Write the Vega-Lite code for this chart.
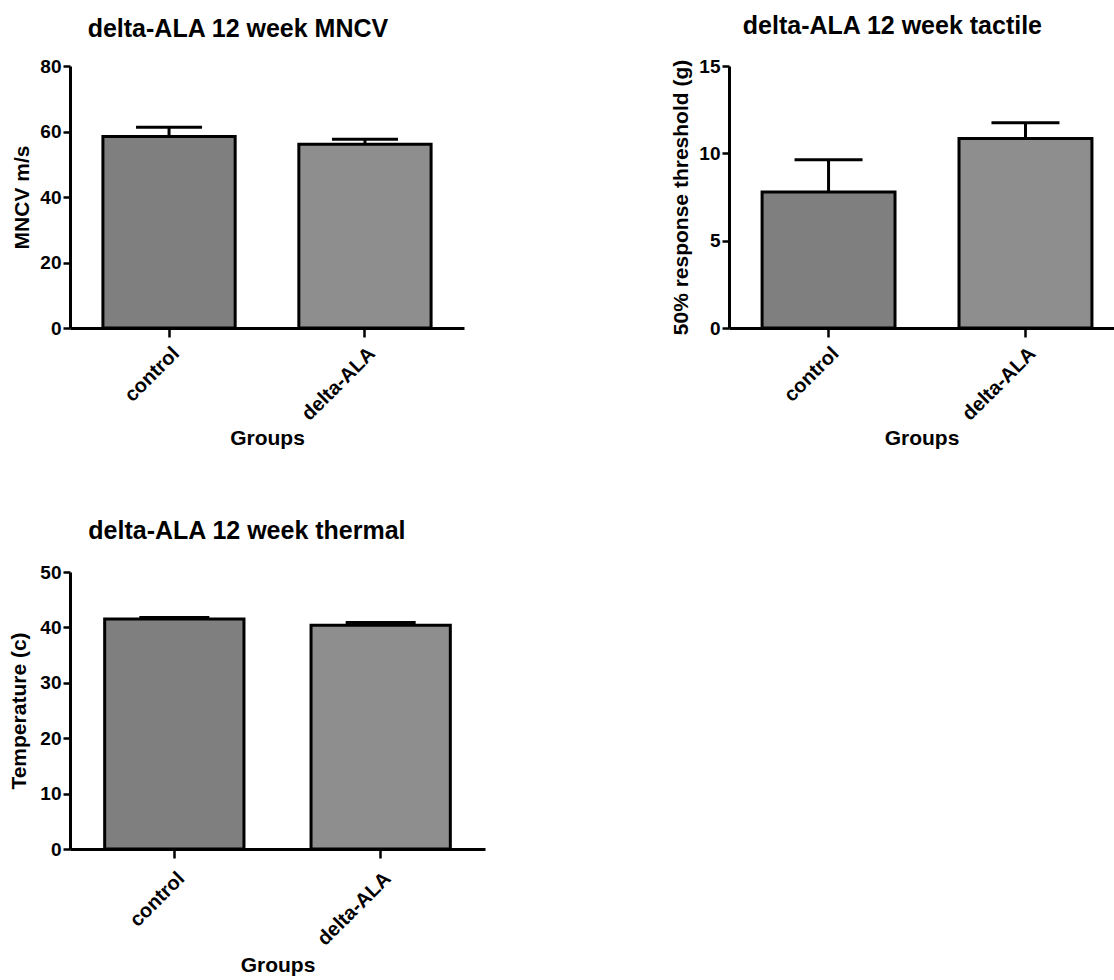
{
  "$schema": "https://vega.github.io/schema/vega-lite/v6.json",
  "padding": {"left": 8, "top": 14, "right": 0, "bottom": 0},
  "config": {
    "font": "Liberation Sans",
    "view": {"stroke": null},
    "axis": {
      "labelFont": "Liberation Sans", "titleFont": "Liberation Sans",
      "labelFontWeight": "bold", "titleFontWeight": "bold",
      "labelColor": "black", "titleColor": "black",
      "domainColor": "black", "tickColor": "black",
      "domainWidth": 3, "tickWidth": 2.5, "grid": false,
      "labelFontSize": 19, "titleFontSize": 21
    },
    "axisY": {"tickSize": 7, "labelPadding": 2, "titlePadding": 7},
    "axisX": {"tickSize": 9, "labelAngle": -45, "labelFontSize": 20, "labelPadding": 6, "titlePadding": 4},
    "title": {"font": "Liberation Sans", "fontSize": 25, "fontWeight": "bold", "color": "black", "anchor": "middle", "frame": "bounds", "offset": 15}
  },
  "data": {"values": [
    {"panel": "MNCV", "group": "control", "mean": 58.5, "upper": 61.3},
    {"panel": "MNCV", "group": "delta-ALA", "mean": 56.1, "upper": 57.6},
    {"panel": "tactile", "group": "control", "mean": 7.78, "upper": 9.63},
    {"panel": "tactile", "group": "delta-ALA", "mean": 10.85, "upper": 11.75},
    {"panel": "thermal", "group": "control", "mean": 41.5, "upper": 41.8},
    {"panel": "thermal", "group": "delta-ALA", "mean": 40.4, "upper": 40.9}
  ]},
  "columns": 1,
  "align": "none",
  "spacing": 70,
  "concat": [
    {
      "bounds": "flush",
      "spacing": 265,
      "hconcat": [
        {
          "width": 394, "height": 262,
          "title": "delta-ALA 12 week MNCV",
          "transform": [{"filter": "datum.panel == 'MNCV'"}],
          "encoding": {"x": {"field": "group", "type": "nominal", "sort": ["control", "delta-ALA"], "title": "Groups",
            "scale": {"paddingInner": 0.325, "paddingOuter": 0.168}}},
          "layer": [
            {"mark": {"type": "bar", "stroke": "black", "strokeWidth": 3},
             "encoding": {
               "y": {"field": "mean", "type": "quantitative", "title": "MNCV m/s", "scale": {"domain": [0, 80], "nice": false}, "axis": {"values": [0, 20, 40, 60, 80]}},
               "fill": {"field": "group", "type": "nominal", "scale": {"domain": ["control", "delta-ALA"], "range": ["#7f7f7f", "#8e8e8e"]}, "legend": null}}},
            {"mark": {"type": "rule", "strokeWidth": 3, "color": "black"},
             "encoding": {"y": {"field": "mean", "type": "quantitative", "title": "MNCV m/s"}, "y2": {"field": "upper"}}},
            {"mark": {"type": "tick", "thickness": 3, "size": 66, "color": "black", "opacity": 1},
             "encoding": {"y": {"field": "upper", "type": "quantitative", "title": "MNCV m/s"}}}
          ]
        },
        {
          "width": 385, "height": 262,
          "title": {"text": "delta-ALA 12 week tactile", "offset": 18},
          "transform": [{"filter": "datum.panel == 'tactile'"}],
          "encoding": {"x": {"field": "group", "type": "nominal", "sort": ["control", "delta-ALA"], "title": "Groups",
            "scale": {"paddingInner": 0.325, "paddingOuter": 0.14, "align": 0.6}}},
          "layer": [
            {"mark": {"type": "bar", "stroke": "black", "strokeWidth": 3},
             "encoding": {
               "y": {"field": "mean", "type": "quantitative", "title": "50% response threshold (g)", "scale": {"domain": [0, 15], "nice": false}, "axis": {"values": [0, 5, 10, 15]}},
               "fill": {"field": "group", "type": "nominal", "scale": {"domain": ["control", "delta-ALA"], "range": ["#7f7f7f", "#8e8e8e"]}, "legend": null}}},
            {"mark": {"type": "rule", "strokeWidth": 3, "color": "black"},
             "encoding": {"y": {"field": "mean", "type": "quantitative", "title": "50% response threshold (g)"}, "y2": {"field": "upper"}}},
            {"mark": {"type": "tick", "thickness": 3, "size": 68, "color": "black", "opacity": 1},
             "encoding": {"y": {"field": "upper", "type": "quantitative", "title": "50% response threshold (g)"}}}
          ]
        }
      ]
    },
    {
      "width": 415, "height": 277,
      "title": {"text": "delta-ALA 12 week thermal", "offset": 19},
      "transform": [{"filter": "datum.panel == 'thermal'"}],
      "encoding": {"x": {"field": "group", "type": "nominal", "sort": ["control", "delta-ALA"], "title": "Groups",
        "scale": {"paddingInner": 0.325, "paddingOuter": 0.168},
        "axis": {"labelPadding": 10, "titlePadding": 6}}},
      "layer": [
        {"mark": {"type": "bar", "stroke": "black", "strokeWidth": 3},
         "encoding": {
           "y": {"field": "mean", "type": "quantitative", "title": "Temperature (c)", "scale": {"domain": [0, 50], "nice": false}, "axis": {"values": [0, 10, 20, 30, 40, 50], "titlePadding": 10}},
           "fill": {"field": "group", "type": "nominal", "scale": {"domain": ["control", "delta-ALA"], "range": ["#7f7f7f", "#8e8e8e"]}, "legend": null}}},
        {"mark": {"type": "rule", "strokeWidth": 3, "color": "black"},
         "encoding": {"y": {"field": "mean", "type": "quantitative", "title": "Temperature (c)"}, "y2": {"field": "upper"}}},
        {"mark": {"type": "tick", "thickness": 3, "size": 70, "color": "black", "opacity": 1},
         "encoding": {"y": {"field": "upper", "type": "quantitative", "title": "Temperature (c)"}}}
      ]
    }
  ]
}
